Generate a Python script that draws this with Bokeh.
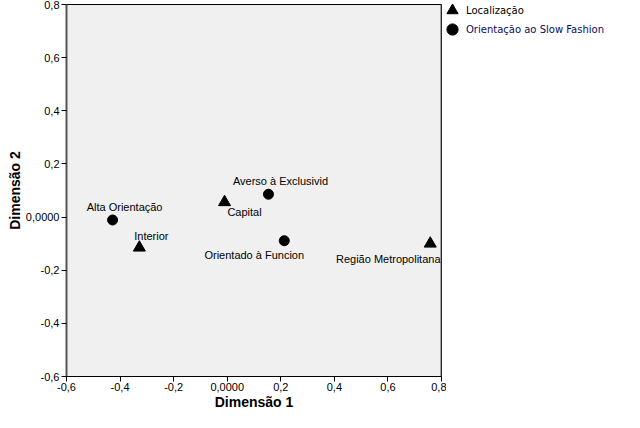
from bokeh.plotting import figure
from bokeh.models import (Range1d, FixedTicker, Legend, LegendItem, Span,
                          ColumnDataSource)
from bokeh.layouts import row
from bokeh.core.properties import value
from bokeh.embed import file_html
from bokeh.resources import INLINE

# ---- data ----
loc_labels = ["Capital", "Interior", "Região Metropolitana"]
loc_x = [-0.010, -0.328, 0.758]
loc_y = [0.056, -0.115, -0.100]

ori_labels = ["Alta Orientação", "Averso à Exclusivid", "Orientado à Funcion"]
ori_x = [-0.428, 0.154, 0.213]
ori_y = [-0.011, 0.086, -0.089]

ticks = [-0.6, -0.4, -0.2, 0.0, 0.2, 0.4, 0.6, 0.8]
tick_labels = ["-0,6", "-0,4", "-0,2", "0,0000", "0,2", "0,4", "0,6", "0,8"]

legend_labels = ["Localização", "Orientação ao Slow Fashion"]

# label offsets in screen pixels (styling)
loc_dx = [20, 12, -42]
loc_dy = [10, -12, 15]
ori_dx = [12, 12, -30]
ori_dy = [-13, -13, 14]

FONT = "Liberation Sans"

p = figure(width=446, height=412, output_backend="svg", toolbar_location=None,
           x_range=Range1d(-0.6, 0.8), y_range=Range1d(-0.6, 0.8),
           min_border_left=66, min_border_right=5, min_border_top=4,
           min_border_bottom=30)
p.background_fill_color = "#f0f0f0"
p.border_fill_color = "white"
p.outline_line_color = "black"
p.outline_line_width = 1
p.xgrid.visible = False
p.ygrid.visible = False

tick_overrides = {t: l for t, l in zip(ticks, tick_labels)}
for ax in (p.xaxis[0], p.yaxis[0]):
    ax.ticker = FixedTicker(ticks=ticks)
    ax.major_label_overrides = tick_overrides
    ax.minor_tick_line_color = None
    ax.major_tick_out = 5
    ax.major_tick_in = 0
    ax.major_label_text_font = FONT
    ax.major_label_text_font_size = "11px"
    ax.major_label_text_color = "black"
    ax.axis_label_text_font = FONT
    ax.axis_label_text_font_size = "14px"
    ax.axis_label_text_font_style = "bold"
    ax.axis_label_text_color = "black"
    ax.major_tick_line_color = "black"

p.xaxis.axis_label = "Dimensão 1"
p.yaxis.axis_label = "Dimensão 2"
p.xaxis.major_label_standoff = 1
p.yaxis.major_label_standoff = 2
p.xaxis.axis_label_standoff = 0
p.yaxis.axis_label_standoff = 0
p.xaxis.axis_line_color = "black"
p.yaxis.axis_line_color = "#555555"
p.yaxis.axis_line_width = 2

p.add_layout(Span(location=0.8, dimension="height", line_color="#555555",
                  line_width=2))

src_loc = ColumnDataSource(dict(x=loc_x, y=loc_y, t=loc_labels, dx=loc_dx, dy=loc_dy))
src_ori = ColumnDataSource(dict(x=ori_x, y=ori_y, t=ori_labels, dx=ori_dx, dy=ori_dy))

p.scatter("x", "y", source=src_loc, marker="triangle", size=12,
          fill_color="black", line_color="black")
p.scatter("x", "y", source=src_ori, marker="circle", size=10,
          fill_color="black", line_color="black")

for src in (src_loc, src_ori):
    p.text("x", "y", text="t", source=src, x_offset="dx", y_offset="dy",
           text_align="center", text_baseline="middle",
           text_font=value(FONT), text_font_size="11px", text_color="black")

# ---- legend panel (ranges chosen so the proxy markers fall out of view) ----
q = figure(width=178, height=412, output_backend="svg", toolbar_location=None,
           x_range=Range1d(10, 11), y_range=Range1d(10, 11),
           min_border=0, min_border_left=0, min_border_top=4)
q.axis.visible = False
q.grid.visible = False
q.outline_line_color = None
q.background_fill_color = "white"
q.border_fill_color = "white"

g_loc = q.scatter(loc_x, loc_y, marker="triangle",
                  size=12, fill_color="black", line_color="black")
g_ori = q.scatter(ori_x, ori_y, marker="circle",
                  size=10, fill_color="black", line_color="black")

leg1 = Legend(items=[LegendItem(label=legend_labels[0], renderers=[g_loc], index=0)],
              location="top_left", label_text_color="black")
leg2 = Legend(items=[LegendItem(label=legend_labels[1], renderers=[g_ori], index=0)],
              location="top_left", label_text_color="#0a0a60",
              title=" ", title_text_font_size="10px", title_standoff=8)
for lg in (leg1, leg2):
    lg.background_fill_alpha = 0
    lg.border_line_color = None
    lg.padding = 0
    lg.margin = -8
    lg.spacing = 0
    lg.glyph_width = 28
    lg.glyph_height = 28
    lg.label_standoff = 0
    lg.label_height = 20
    lg.label_text_font = "DejaVu Sans"
    lg.label_text_font_size = "10px"
    lg.label_text_baseline = "middle"
    q.add_layout(lg, "center")

layout = row(p, q, spacing=0)
open("out.html", "w").write(file_html(layout, INLINE))
